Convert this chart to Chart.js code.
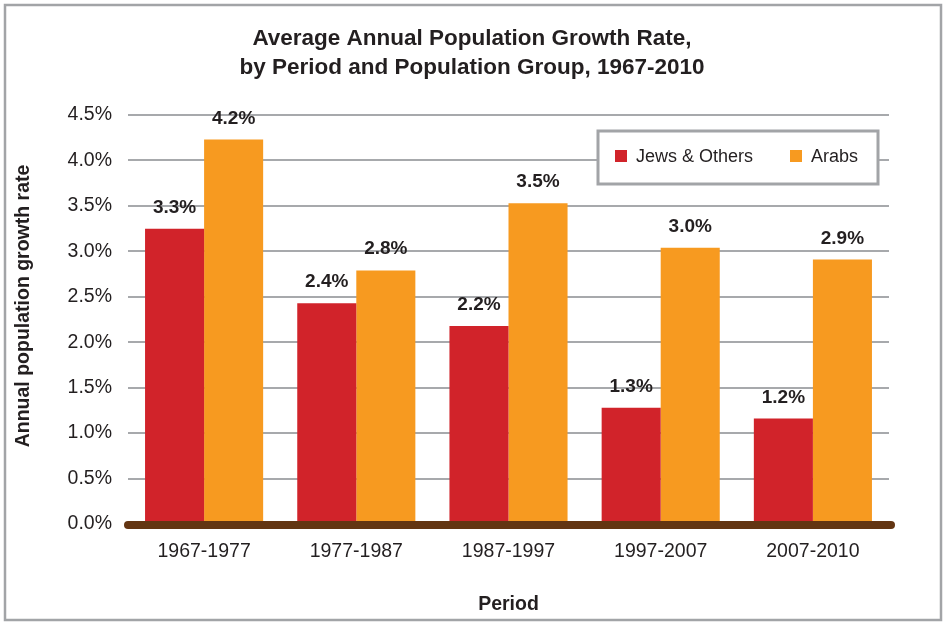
<!DOCTYPE html>
<html>
<head>
<meta charset="utf-8">
<script src="https://cdn.jsdelivr.net/npm/chart.js@4.4.0/dist/chart.umd.min.js"></script>
<style>
  html, body { margin: 0; padding: 0; background: #fff; }
  #wrap { width: 944px; height: 624px; }
</style>
</head>
<body>
<div id="wrap"><canvas id="chart" width="944" height="624"></canvas></div>
<script>
  // Data
  const periods = ['1967-1977', '1977-1987', '1987-1997', '1997-2007', '2007-2010'];
  const jews = [3.25, 2.43, 2.18, 1.28, 1.16];
  const arabs = [4.23, 2.79, 3.53, 3.04, 2.91];
  const jewsLabels = ['3.3%', '2.4%', '2.2%', '1.3%', '1.2%'];
  const arabsLabels = ['4.2%', '2.8%', '3.5%', '3.0%', '2.9%'];
  const yTicks = [0, 0.5, 1, 1.5, 2, 2.5, 3, 3.5, 4, 4.5];

  const red = '#d1232a';
  const orange = '#f79a20';
  const brown = '#633512';
  const textColor = '#231f20';
  const fontFamily = '"Liberation Sans", Arial, sans-serif';

  // Outer frame of the figure
  const framePlugin = {
    id: 'frame',
    afterDraw(chart) {
      const ctx = chart.ctx;
      ctx.save();
      ctx.strokeStyle = '#a2a4a7';
      ctx.lineWidth = 2.5;
      ctx.strokeRect(5, 5, 936, 615);
      ctx.restore();
    }
  };

  // Thick rounded base line at 0%
  const baseLinePlugin = {
    id: 'baseLine',
    afterDatasetsDraw(chart) {
      const ctx = chart.ctx;
      const y = chart.scales.y.getPixelForValue(0);
      const area = chart.chartArea;
      ctx.save();
      ctx.strokeStyle = brown;
      ctx.lineWidth = 8;
      ctx.lineCap = 'round';
      ctx.beginPath();
      ctx.moveTo(area.left, y + 1);
      ctx.lineTo(area.right + 2, y + 1);
      ctx.stroke();
      ctx.restore();
    }
  };

  // Value labels above bars
  const valueLabelPlugin = {
    id: 'valueLabels',
    afterDatasetsDraw(chart) {
      const ctx = chart.ctx;
      const all = [jewsLabels, arabsLabels];
      ctx.save();
      ctx.font = 'bold 19px ' + fontFamily;
      ctx.fillStyle = textColor;
      ctx.textAlign = 'center';
      ctx.textBaseline = 'alphabetic';
      chart.data.datasets.forEach((ds, i) => {
        chart.getDatasetMeta(i).data.forEach((bar, j) => {
          ctx.fillText(all[i][j], bar.x, bar.y - 16);
        });
      });
      ctx.restore();
    }
  };

  // Boxed legend inside the plot area
  const boxLegendPlugin = {
    id: 'boxLegend',
    afterDatasetsDraw(chart) {
      const ctx = chart.ctx;
      ctx.save();
      ctx.fillStyle = '#fff';
      ctx.fillRect(598, 131, 280, 53);
      ctx.strokeStyle = '#a2a4a7';
      ctx.lineWidth = 3;
      ctx.strokeRect(598, 131, 280, 53);
      ctx.font = '18px ' + fontFamily;
      ctx.textBaseline = 'middle';
      ctx.textAlign = 'left';
      const items = [[615, 636], [790, 811]];
      chart.data.datasets.forEach((ds, i) => {
        ctx.fillStyle = ds.backgroundColor;
        ctx.fillRect(items[i][0], 150, 12, 12);
        ctx.fillStyle = textColor;
        ctx.fillText(ds.label, items[i][1], 157);
      });
      ctx.restore();
    }
  };

  new Chart(document.getElementById('chart'), {
    type: 'bar',
    data: {
      labels: periods,
      datasets: [
        { label: 'Jews & Others', data: jews, backgroundColor: red },
        { label: 'Arabs', data: arabs, backgroundColor: orange }
      ]
    },
    options: {
      responsive: false,
      animation: false,
      devicePixelRatio: 1,
      layout: { padding: 0 },
      datasets: {
        bar: { categoryPercentage: 0.776, barPercentage: 1.0, borderWidth: 0 }
      },
      plugins: {
        legend: { display: false },
        tooltip: { enabled: false },
        title: {
          display: true,
          text: ['Average Annual Population Growth Rate,', 'by Period and Population Group, 1967-2010'],
          color: textColor,
          font: { family: fontFamily, size: 22.5, weight: 'bold', lineHeight: 1.29 },
          padding: { top: 24, bottom: 33 }
        }
      },
      scales: {
        x: {
          grid: { display: false, drawTicks: false },
          border: { display: false },
          ticks: { color: textColor, font: { family: fontFamily, size: 19.5 }, padding: 16 },
          title: {
            display: true,
            text: 'Period',
            color: textColor,
            font: { family: fontFamily, size: 19.5, weight: 'bold', lineHeight: 1.2 },
            padding: { top: 0, bottom: 8 }
          },
          afterFit(scale) { scale.height = 100; }
        },
        y: {
          min: 0,
          max: 4.5,
          afterBuildTicks(scale) { scale.ticks = yTicks.map(v => ({ value: v })); },
          grid: {
            color: ctx => (ctx.tick && ctx.tick.value === 0 ? 'rgba(0,0,0,0)' : '#a7a9ac'),
            lineWidth: 2,
            drawTicks: false
          },
          border: { display: false },
          ticks: {
            color: textColor,
            font: { family: fontFamily, size: 19.5 },
            padding: 16,
            callback: v => v.toFixed(1) + '%'
          },
          title: {
            display: true,
            // leading spaces nudge the rotated title up a little, as in the reference
            text: '     Annual population growth rate',
            color: textColor,
            font: { family: fontFamily, size: 19.5, weight: 'bold', lineHeight: 1.2 },
            padding: { top: 12, bottom: 0 }
          },
          afterFit(scale) { scale.width = 128; }
        },
        // empty spacer on the right so the plot ends where the reference does
        spacer: {
          type: 'linear',
          position: 'right',
          display: true,
          grid: { display: false, drawTicks: false },
          border: { display: false },
          ticks: { display: false },
          afterFit(scale) { scale.width = 55; }
        }
      }
    },
    plugins: [baseLinePlugin, valueLabelPlugin, boxLegendPlugin, framePlugin]
  });
</script>
</body>
</html>
